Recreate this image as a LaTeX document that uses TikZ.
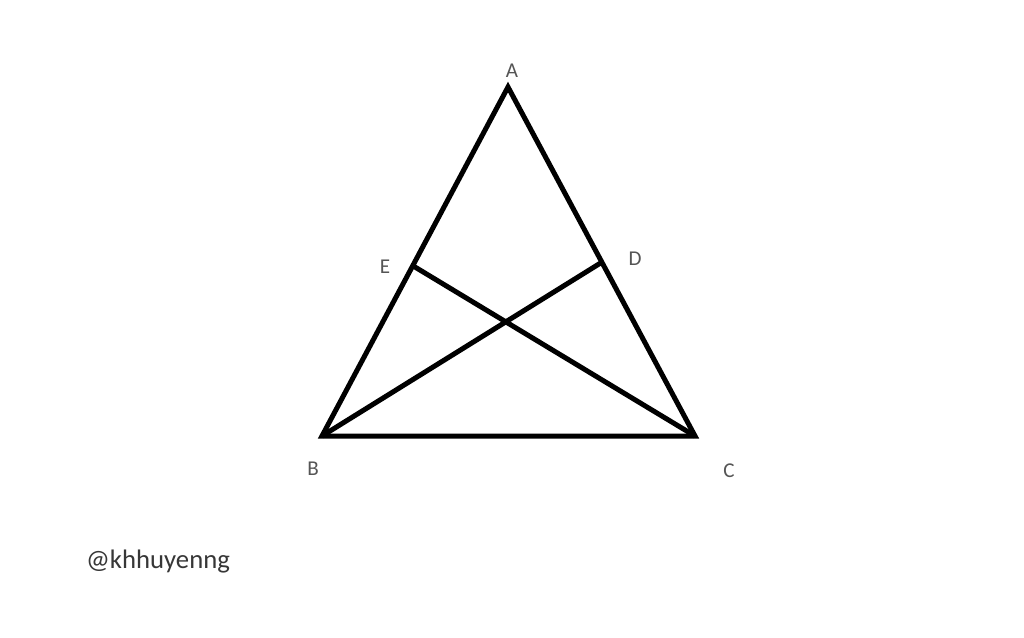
\documentclass[tikz,border=0pt]{standalone}
\usepackage{fontspec}
\setmainfont{Carlito}
\usetikzlibrary{calc,backgrounds}
\definecolor{etiquette}{RGB}{85,85,85}
\definecolor{filigrane}{RGB}{55,55,55}
\tikzset{%
  trait/.style={line width=0.1cm, line join=miter},%
  sommet/.style={text=etiquette, font=\fontsize{12}{14}\selectfont, inner sep=0pt}%
}

\begin{document}
\begin{tikzpicture}[%
    show background rectangle,%
    tight background,%
    background rectangle/.style={fill=white}%
    ]
  \useasboundingbox (0,0) rectangle (20.48,-12.76);%

  % Coordonnées
  \coordinate (A) at (10.16,-1.74);%
  \coordinate (B) at (6.44,-8.72);%
  \coordinate (C) at (13.90,-8.72);%
  \coordinate (E) at ($(A)!0.512!(B)$);%
  \coordinate (D) at ($(A)!0.502!(C)$);%

  % Nœuds
  \node[sommet] (lA) at (10.24,-1.42) {A};%
  \node[sommet] (lE) at (7.70,-5.34) {E};%
  \node[sommet] (lD) at (12.70,-5.18) {D};%
  \node[sommet] (lB) at (6.26,-9.38) {B};%
  \node[sommet] (lC) at (14.58,-9.42) {C};%
  \node[text=filigrane, font=\fontsize{15.2}{18}\selectfont, inner sep=0pt] (pseudo)
    at (3.16,-11.24) {@khhuyenng};%

  % Lignes
  \draw[trait] (A) -- (B) -- (C) -- cycle;%
  \draw[trait] (B) -- (D);%
  \draw[trait] (C) -- (E);%
\end{tikzpicture}
\end{document}
